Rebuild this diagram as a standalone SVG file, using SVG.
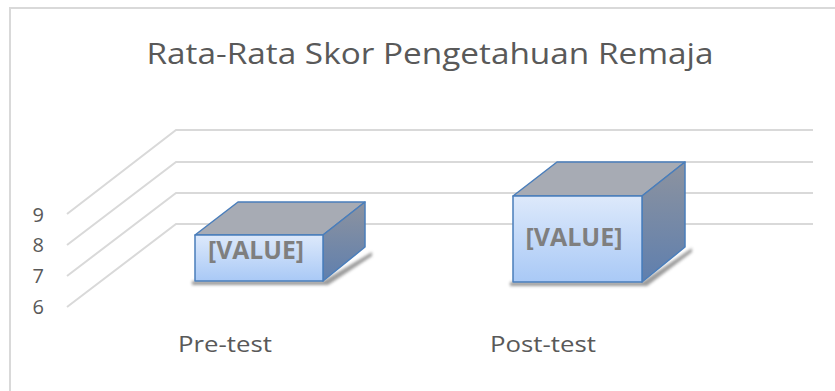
<svg xmlns="http://www.w3.org/2000/svg" width="835" height="391" viewBox="0 0 835 391">
<style>
.grid{stroke:#d9d9d9;stroke-width:2;fill:none}
.ax{font-family:"Open Sans","Liberation Sans",sans-serif;font-size:20px;fill:#595959}
.cat{font-family:"Open Sans","Liberation Sans",sans-serif;font-size:21px;fill:#595959}
.val{font-family:"Open Sans","Liberation Sans",sans-serif;font-size:25px;font-weight:bold;fill:#7f7f7f}
.edge{stroke:#4a7ebb;stroke-width:1.5;stroke-linejoin:round}
</style>
<defs>
<linearGradient id="front" x1="0" y1="0" x2="0" y2="1">
<stop offset="0" stop-color="#dde9fb"/>
<stop offset="1" stop-color="#a9c9f6"/>
</linearGradient>
<linearGradient id="side" x1="0" y1="0" x2="0" y2="1">
<stop offset="0" stop-color="#8d939f"/>
<stop offset="1" stop-color="#5f7fae"/>
</linearGradient>
<filter id="sh" x="-20%" y="-100%" width="140%" height="300%">
<feGaussianBlur stdDeviation="1.5"/>
</filter>
</defs>
<rect x="10" y="8" width="840" height="400" fill="#ffffff" stroke="#d9d9d9" stroke-width="2"/>
<text x="430" y="64" text-anchor="middle" font-family="Open Sans,Liberation Sans,sans-serif" font-size="29" fill="#595959" textLength="567" lengthAdjust="spacingAndGlyphs">Rata-Rata Skor Pengetahuan Remaja</text>
<g id="gridlines">
<polyline class="grid" points="67,214 176,130 813,130"/>
<polyline class="grid" points="67,245 176,162 813,162"/>
<polyline class="grid" points="67,276 176,193 813,193"/>
<polyline class="grid" points="67,307 176,224 813,224"/>
</g>
<g id="axis">
<text class="ax" x="44" y="222" text-anchor="end">9</text>
<text class="ax" x="44" y="252" text-anchor="end">8</text>
<text class="ax" x="44" y="283" text-anchor="end">7</text>
<text class="ax" x="44" y="314" text-anchor="end">6</text>
</g>
<g id="bar-pretest">
<polygon points="192,281 323,281 372,252 372,256 328,285 192,285" fill="#595959" opacity="0.6" filter="url(#sh)"/>
<polygon class="edge" points="195,235 238,202 365,202 323,235" fill="#a7abb4"/>
<polygon class="edge" points="323,235 365,202 365,247 323,281" fill="url(#side)"/>
<rect class="edge" x="195" y="235" width="128" height="46" fill="url(#front)"/>
<text class="val" x="256" y="259" text-anchor="middle" textLength="96" lengthAdjust="spacingAndGlyphs">[VALUE]</text>
</g>
<g id="bar-posttest">
<polygon points="510,282 642,282 692,248 692,252 647,286 510,286" fill="#595959" opacity="0.6" filter="url(#sh)"/>
<polygon class="edge" points="513,196 557,162 685,162 642,196" fill="#a7abb4"/>
<polygon class="edge" points="642,196 685,162 685,247 642,282" fill="url(#side)"/>
<rect class="edge" x="513" y="196" width="129" height="86" fill="url(#front)"/>
<text class="val" x="574" y="246" text-anchor="middle" textLength="97" lengthAdjust="spacingAndGlyphs">[VALUE]</text>
</g>
<g id="categories">
<text class="cat" x="225" y="352" text-anchor="middle" textLength="94" lengthAdjust="spacingAndGlyphs">Pre-test</text>
<text class="cat" x="543" y="352" text-anchor="middle" textLength="106" lengthAdjust="spacingAndGlyphs">Post-test</text>
</g>
</svg>
